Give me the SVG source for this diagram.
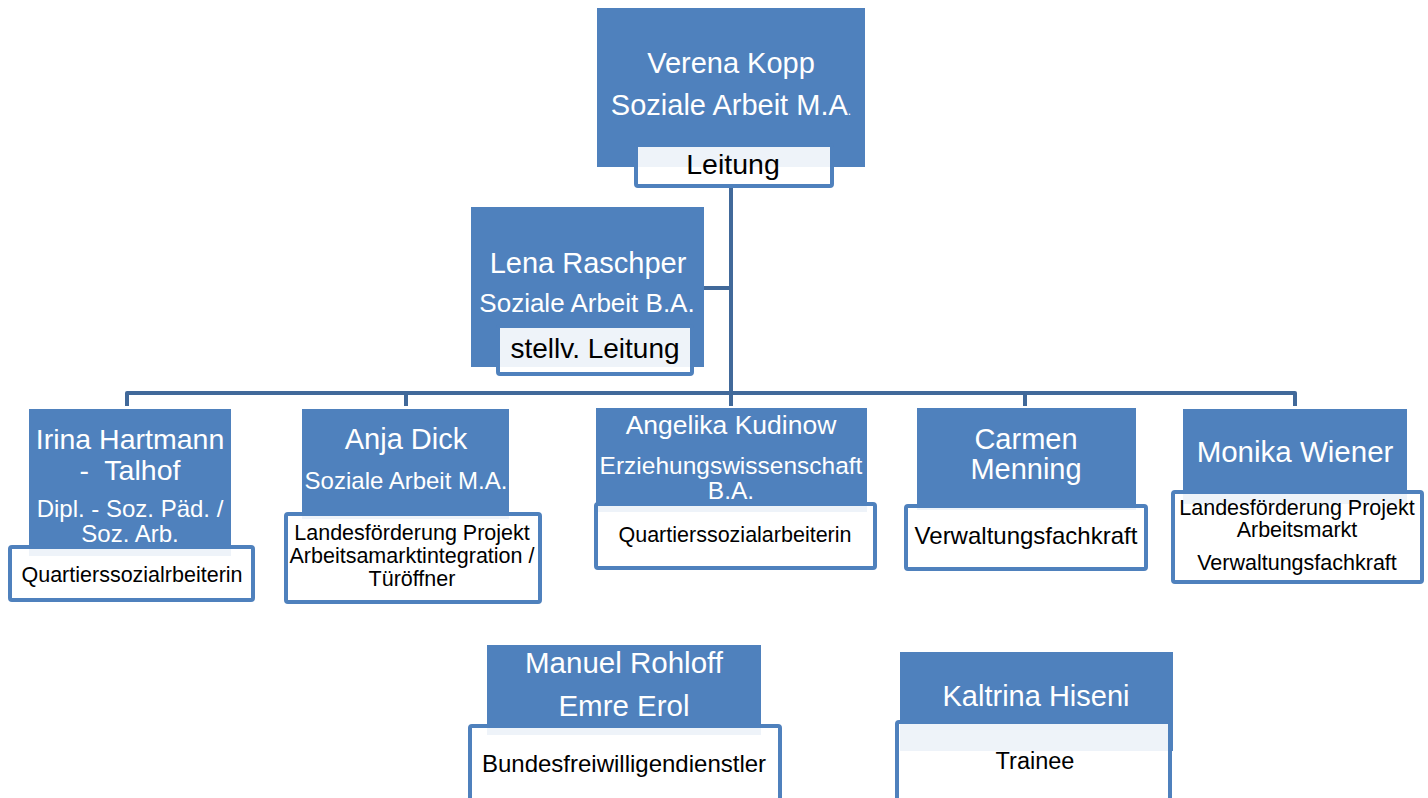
<svg xmlns="http://www.w3.org/2000/svg" width="1428" height="798" viewBox="0 0 1428 798">
<style>
.b{fill:#4F81BD}
.s{fill:#fff;fill-opacity:0.9;stroke:#4F81BD;stroke-width:4}
.t{font-family:"Liberation Sans",Arial,sans-serif;text-anchor:middle}
.w{fill:#fff}
.k{fill:#000}
.c{stroke:#41699A;stroke-width:4;fill:none;stroke-linejoin:round}
</style>
<rect width="1428" height="798" fill="#fff"/>
<g id="connectors">
<path class="c" d="M731 188V394"/>
<path class="c" d="M704 288H731"/>
<path class="c" d="M127 406V393H1295V406"/>
<path class="c" d="M406 393V406"/>
<path class="c" d="M731 393V406"/>
<path class="c" d="M1025 393V406"/>
</g>
<g id="verena">
<rect class="b" x="597" y="8" width="268" height="159"/>
<rect class="s" x="636" y="145" width="196" height="41" rx="2"/>
<text class="t w" x="731" y="73" font-size="29">Verena Kopp</text>
<text class="t w" x="731" y="115" font-size="29">Soziale Arbeit M.A<tspan font-size="12">.</tspan></text>
<text class="t k" x="733" y="174" font-size="28.5">Leitung</text>
</g>
<g id="lena">
<rect class="b" x="471" y="207" width="233" height="160"/>
<rect class="s" x="498" y="326" width="194" height="48" rx="2"/>
<text class="t w" x="588" y="273" font-size="29">Lena Raschper</text>
<text class="t w" x="587" y="312" font-size="26">Soziale Arbeit B.A.</text>
<text class="t k" x="595" y="358" font-size="28">stellv. Leitung</text>
</g>
<g id="irina">
<rect class="b" x="29" y="409" width="202" height="147"/>
<rect class="s" x="10" y="547" width="243" height="53" rx="2"/>
<text class="t w" x="130" y="449" font-size="28.5">Irina Hartmann</text>
<text class="t w" x="130" y="480" font-size="28.5" xml:space="preserve">-  Talhof</text>
<text class="t w" x="130" y="517" font-size="24">Dipl. - Soz. Päd. /</text>
<text class="t w" x="130" y="542" font-size="24">Soz. Arb.</text>
<text class="t k" x="132" y="582" font-size="21.5">Quartierssozialrbeiterin</text>
</g>
<g id="anja">
<rect class="b" x="302" y="409" width="207" height="110"/>
<rect class="s" x="286" y="514" width="254" height="88" rx="2"/>
<text class="t w" x="406" y="449" font-size="29">Anja Dick</text>
<text class="t w" x="406" y="489" font-size="24">Soziale Arbeit M.A.</text>
<text class="t k" x="412" y="540" font-size="21.5">Landesförderung Projekt</text>
<text class="t k" x="412" y="563" font-size="21.5">Arbeitsamarktintegration /</text>
<text class="t k" x="412" y="586" font-size="21.5">Türöffner</text>
</g>
<g id="angelika">
<rect class="b" x="596" y="408" width="271" height="104"/>
<rect class="s" x="596" y="504" width="279" height="64" rx="2"/>
<text class="t w" x="731" y="434" font-size="26.5">Angelika Kudinow</text>
<text class="t w" x="731" y="474" font-size="24.5">Erziehungswissenschaft</text>
<text class="t w" x="731" y="499" font-size="24.5">B.A.</text>
<text class="t k" x="735" y="542" font-size="21.5">Quartierssozialarbeiterin</text>
</g>
<g id="carmen">
<rect class="b" x="917" y="408" width="219" height="102"/>
<rect class="s" x="906" y="506" width="240" height="63" rx="2"/>
<text class="t w" x="1026" y="449" font-size="29">Carmen</text>
<text class="t w" x="1026" y="479" font-size="29">Menning</text>
<text class="t k" x="1026" y="544" font-size="24">Verwaltungsfachkraft</text>
</g>
<g id="monika">
<rect class="b" x="1183" y="409" width="224" height="95"/>
<rect class="s" x="1173" y="492" width="249" height="90" rx="2"/>
<text class="t w" x="1295" y="462" font-size="29.5">Monika Wiener</text>
<text class="t k" x="1297" y="515" font-size="21.5">Landesförderung Projekt</text>
<text class="t k" x="1297" y="537" font-size="21.5">Arbeitsmarkt</text>
<text class="t k" x="1297" y="570" font-size="21.5">Verwaltungsfachkraft</text>
</g>
<g id="manuel">
<rect class="b" x="487" y="645" width="274" height="90"/>
<rect class="s" x="470" y="726" width="310" height="80" rx="2"/>
<text class="t w" x="624" y="673" font-size="29.5">Manuel Rohloff</text>
<text class="t w" x="624" y="716" font-size="29.5">Emre Erol</text>
<text class="t k" x="624" y="772" font-size="24">Bundesfreiwilligendienstler</text>
</g>
<g id="kaltrina">
<rect class="b" x="900" y="652" width="273" height="99"/>
<rect class="s" x="897" y="722" width="273" height="84" rx="2"/>
<text class="t w" x="1036" y="706" font-size="29">Kaltrina Hiseni</text>
<text class="t k" x="1035" y="769" font-size="23.5">Trainee</text>
</g>
</svg>
